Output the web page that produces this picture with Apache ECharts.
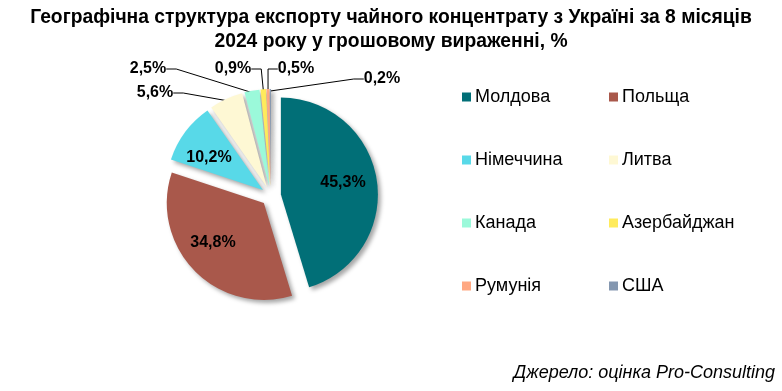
<!DOCTYPE html>
<html>
<head>
<meta charset="utf-8">
<script src="https://cdn.jsdelivr.net/npm/echarts@6/dist/echarts.min.js"></script>
<style>
html,body{margin:0;padding:0;background:#fff;}
#c{width:782px;height:391px;}
</style>
</head>
<body>
<div id="c"></div>
<script>
const categories = ['Молдова','Польща','Німеччина','Литва','Канада','Азербайджан','Румунія','США'];
const shares = [45.3, 34.8, 10.2, 5.6, 2.5, 0.9, 0.5, 0.2];
const colors = ['#016F77','#A9584B','#58D9E8','#FEF8D4','#9BF9DA','#FFEB5C','#FFA882','#8497B0'];
const leftLegend = ['Молдова','Німеччина','Канада','Румунія'];
const rightLegend = ['Польща','Литва','Азербайджан','США'];
const titleText = 'Географічна структура експорту чайного концентрату з Україні за 8 місяців\n2024 року у грошовому вираженні, %';
const sourceText = 'Джерело: оцінка Pro-Consulting';

// label anchor positions (centre of text), by slice index
const labelPos = [[343,183],[213,243],[209,158],[155,93],[148,69],[233,69],[296,69],[382,79]];

const FONT = '"Liberation Sans", Arial, sans-serif';
const chart = echarts.init(document.getElementById('c'), null, {renderer:'canvas'});

const CENTER = [271, 196];
const R = 97;
const OFFSET = 10;

const sliceData = categories.map((name, i) => ({
  name: name,
  value: shares[i],
  selected: true,
  itemStyle: {color: colors[i]}
}));

const labelData = categories.map((name, i) => ({
  name: name,
  value: shares[i],
  label: {show: true, position: i < 3 ? 'inside' : 'outside'},
  labelLine: {show: i >= 3}
}));

const legendCommon = {
  orient: 'vertical',
  itemWidth: 9,
  itemHeight: 9,
  itemGap: 45,
  padding: 0,
  icon: 'rect',
  selectedMode: false,
  textStyle: {fontFamily: FONT, fontSize: 18, color: '#000', lineHeight: 18, padding: [0,0,0,-1]}
};

chart.setOption({
  animation: false,
  backgroundColor: '#fff',
  title: {
    text: titleText,
    left: 'center',
    top: 1,
    textStyle: {fontFamily: FONT, fontSize: 19.3, fontWeight: 'bold', color: '#000', lineHeight: 24}
  },
  legend: [
    Object.assign({}, legendCommon, {data: leftLegend, left: 462, top: 88}),
    Object.assign({}, legendCommon, {data: rightLegend, left: 609, top: 88})
  ],
  graphic: [{
    type: 'text',
    right: 7,
    top: 364,
    style: {text: sourceText, font: 'italic 18px ' + FONT, fill: '#000'}
  }],
  series: [{
    type: 'pie',
    center: CENTER,
    radius: [0, R],
    startAngle: 90,
    clockwise: true,
    selectedMode: 'multiple',
    selectedOffset: OFFSET,
    emphasis: {disabled: true},
    silent: true,
    itemStyle: {
      borderWidth: 0,
      shadowBlur: 4,
      shadowOffsetX: 3,
      shadowOffsetY: 3,
      shadowColor: 'rgba(0,0,0,0.35)'
    },
    label: {show: false},
    labelLine: {show: false},
    data: sliceData
  }, {
    type: 'pie',
    center: CENTER,
    radius: [0, R + OFFSET - 2],
    startAngle: 90,
    clockwise: true,
    selectedMode: false,
    silent: true,
    avoidLabelOverlap: false,
    emphasis: {disabled: true},
    itemStyle: {color: 'rgba(0,0,0,0)', borderWidth: 0},
    label: {
      fontFamily: FONT,
      fontSize: 16,
      fontWeight: 'bold',
      color: '#000',
      formatter: p => p.value.toFixed(1).replace('.', ',') + '%'
    },
    labelLine: {
      length: 10,
      length2: 10,
      lineStyle: {color: '#000', width: 1}
    },
    labelLayout: function (p) {
      const pos = labelPos[p.dataIndex];
      return {x: pos[0], y: pos[1], align: 'center', verticalAlign: 'middle', moveOverlap: false};
    },
    data: labelData
  }]
});
</script>
</body>
</html>
